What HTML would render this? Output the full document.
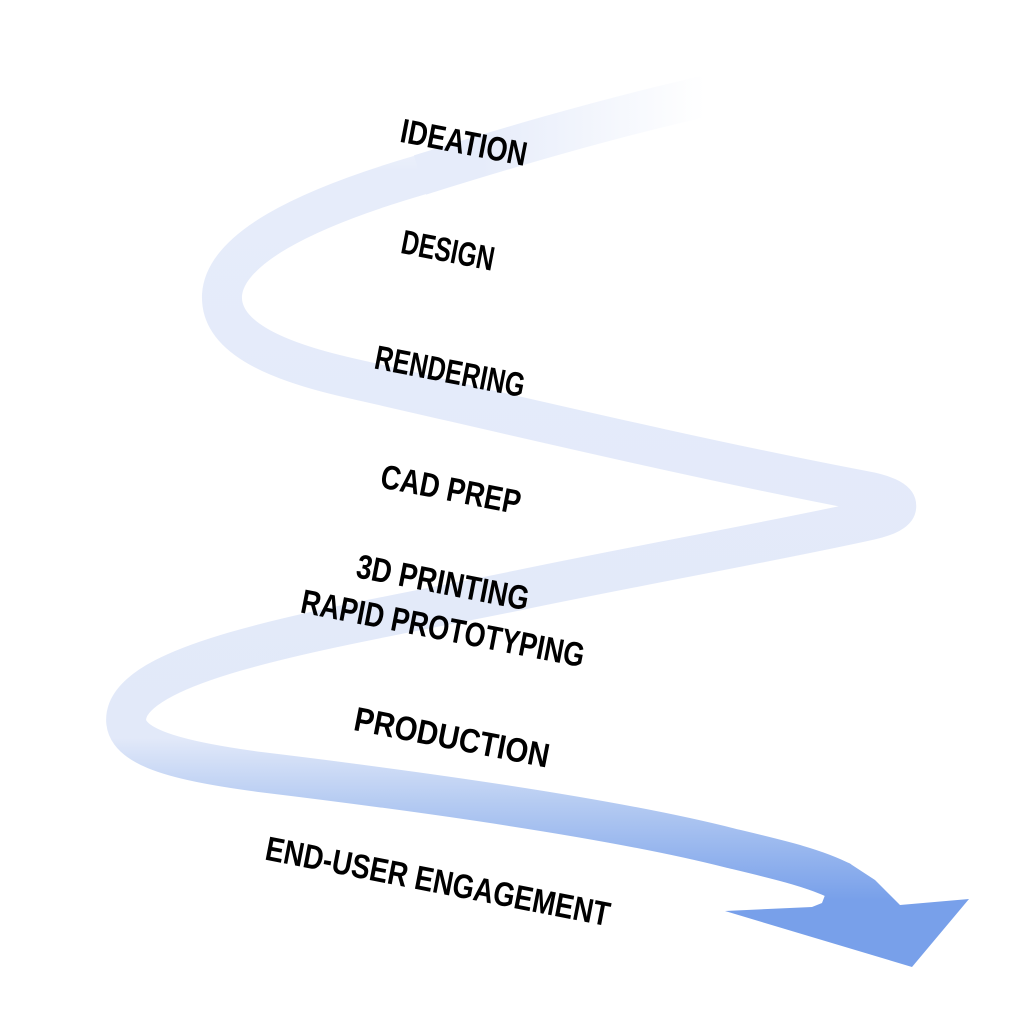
<!DOCTYPE html>
<html><head><meta charset="utf-8"><style>
html,body{margin:0;padding:0;background:#fff;}
svg{display:block;}
text{font-family:"Liberation Sans",sans-serif;font-weight:bold;font-size:34px;fill:#000;}
</style></head><body>
<svg width="1019" height="1029" viewBox="0 0 1019 1029" xmlns="http://www.w3.org/2000/svg">
<defs>
<linearGradient id="g" gradientUnits="userSpaceOnUse" x1="0" y1="90" x2="0" y2="900">
<stop offset="0" stop-color="#ffffff"/>
<stop offset="0.1" stop-color="#e6ecfa"/>
<stop offset="0.8" stop-color="#e2e9f9"/>
<stop offset="0.88" stop-color="#b5cbf2"/>
<stop offset="1" stop-color="#78a0ea"/>
</linearGradient>
<linearGradient id="gt" gradientUnits="userSpaceOnUse" x1="480" y1="0" x2="705" y2="0">
<stop offset="0" stop-color="#e6ecfa"/>
<stop offset="1" stop-color="#ffffff"/>
</linearGradient>
</defs>
<path d="M705,96 C600,120 500,150 420,175 C300,210 225,250 222,295 C220,335 270,360 350,378 C500,412 700,460 870,492 C905,500 905,512 870,520 C780,540 640,565 520,590 C350,625 150,655 128,710 C115,745 170,760 260,772 C450,795 620,820 730,848 C780,860 815,868 842,882"
 fill="none" stroke="url(#g)" stroke-width="40" stroke-linecap="butt"/>
<path d="M706,96 C600,120 500,150 420,175" fill="none" stroke="url(#gt)" stroke-width="41"/>
<polygon points="725,911 812,907 822,903 838,861 849,863 875,880 900,905 969,899 912,967" fill="url(#g)"/>
<g>
<text x="464" y="154" text-anchor="middle" textLength="128" lengthAdjust="spacingAndGlyphs" transform="rotate(11 464 142)">IDEATION</text>
<text x="448" y="262" text-anchor="middle" textLength="94" lengthAdjust="spacingAndGlyphs" transform="rotate(11 448 250)">DESIGN</text>
<text x="450" y="383" text-anchor="middle" textLength="152" lengthAdjust="spacingAndGlyphs" transform="rotate(11 450 371)">RENDERING</text>
<text x="451" y="501" text-anchor="middle" textLength="142" lengthAdjust="spacingAndGlyphs" transform="rotate(11 451 489)">CAD PREP</text>
<text x="443" y="594" text-anchor="middle" textLength="175" lengthAdjust="spacingAndGlyphs" transform="rotate(11 443 582)">3D PRINTING</text>
<text x="443" y="640" text-anchor="middle" textLength="288" lengthAdjust="spacingAndGlyphs" transform="rotate(11 443 628)">RAPID PROTOTYPING</text>
<text x="452" y="749" text-anchor="middle" textLength="198" lengthAdjust="spacingAndGlyphs" transform="rotate(11 452 737)">PRODUCTION</text>
<text x="438" y="893" text-anchor="middle" textLength="350" lengthAdjust="spacingAndGlyphs" transform="rotate(11 438 881)">END-USER ENGAGEMENT</text>
</g>
</svg>
</body></html>
